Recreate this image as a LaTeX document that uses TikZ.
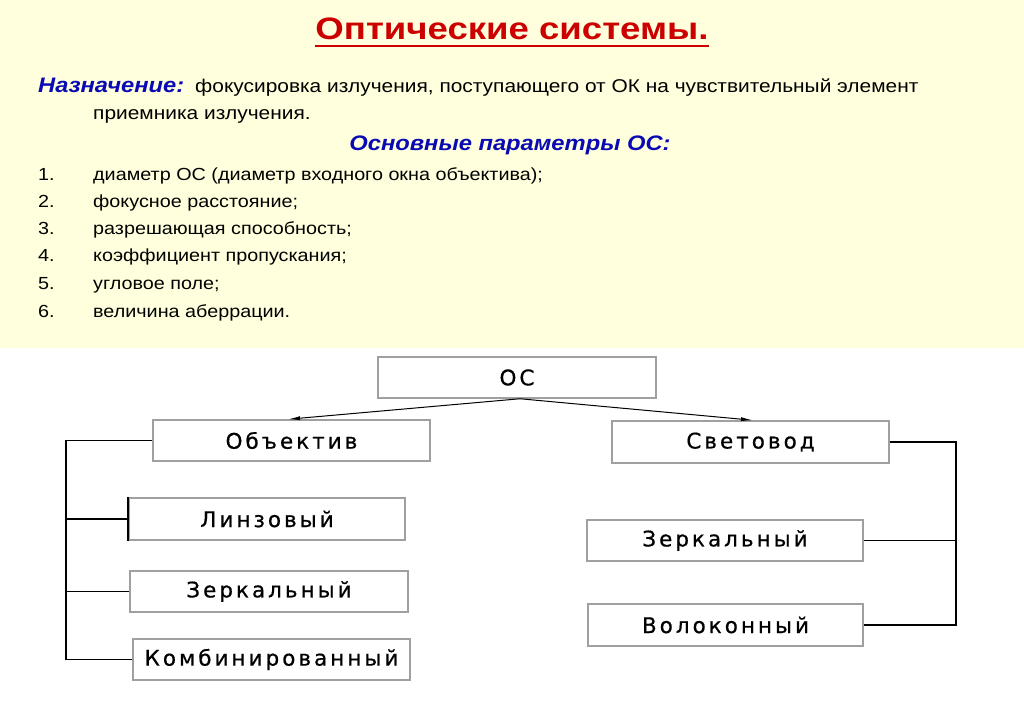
\documentclass[tikz,border=0pt]{standalone}
\usepackage{fontspec}
\setmainfont{Liberation Sans}
\newfontfamily\boxfont[LetterSpace=14,FakeBold=0.6]{DejaVu Sans}
\usetikzlibrary{arrows.meta}
\definecolor{bgyellow}{HTML}{FFFFDD}
\definecolor{titlered}{HTML}{CC0000}
\definecolor{headblue}{HTML}{0A0AB4}
\definecolor{boxgray}{HTML}{A0A0A0}
\newcommand{\sx}[2][1.13]{\scalebox{#1}[1]{#2}}
\begin{document}
\begin{tikzpicture}[x=1pt,y=-1pt,
  txt/.style={anchor=base west, inner sep=0, font=\fontsize{18.5}{20}\selectfont},
  ltxt/.style={anchor=base west, inner sep=0, font=\fontsize{17.5}{20}\selectfont},
  head/.style={inner sep=0, text=headblue, font=\bfseries\itshape\fontsize{21}{22}\selectfont},
  obox/.style={draw=boxgray, line width=1.5pt, fill=white, inner sep=0,
    minimum height=41pt, font=\boxfont\fontsize{21.5}{22}\selectfont},
  conn/.style={draw=black, line width=1.6pt},
  arr/.style={draw=black, line width=1pt, -{Latex[length=12pt,width=4pt]}}]
\useasboundingbox (0,0) rectangle (1024,709);
\fill[white] (0,0) rectangle (1024,709);
\fill[bgyellow] (0,0) rectangle (1024,348);
% title
\node[anchor=base, inner sep=0, text=titlered, font=\bfseries\fontsize{31}{31}\selectfont] (title) at (512,40) {\sx[1.18]{Оптические системы.}};
\draw[titlered, line width=2.5pt] ([yshift=-6pt]title.base west) -- ([yshift=-6pt]title.base east);
% purpose
\node[head, anchor=base west] (nazn) at (38,92) {\sx{Назначение:}};
\node[txt] (nazntext) at (195,92) {\sx{фокусировка излучения, поступающего от ОК на чувствительный элемент}};
\node[txt] (nazntext2) at (93,119) {\sx{приемника излучения.}};
\node[head, anchor=base] (param) at (510,150) {\sx{Основные параметры ОС:}};
% list
\node[ltxt] (n1) at (38,180) {\sx{1.}};
\node[ltxt] (t1) at (93,180) {\sx{диаметр ОС (диаметр входного окна объектива);}};
\node[ltxt] (n2) at (38,207) {\sx{2.}};
\node[ltxt] (t2) at (93,207) {\sx{фокусное расстояние;}};
\node[ltxt] (n3) at (38,234) {\sx{3.}};
\node[ltxt] (t3) at (93,234) {\sx{разрешающая способность;}};
\node[ltxt] (n4) at (38,261) {\sx{4.}};
\node[ltxt] (t4) at (93,261) {\sx{коэффициент пропускания;}};
\node[ltxt] (n5) at (38,289) {\sx{5.}};
\node[ltxt] (t5) at (93,289) {\sx{угловое поле;}};
\node[ltxt] (n6) at (38,317) {\sx{6.}};
\node[ltxt] (t6) at (93,317) {\sx{величина аберрации.}};
% boxes
\node[obox, minimum width=278pt] (os) at (517,377.5) {ОС};
\node[obox, minimum width=277pt] (obj) at (291.5,440.5) {Объектив};
\node[obox, minimum width=276pt, minimum height=42pt] (lin) at (267,519) {Линзовый};
\node[obox, minimum width=278pt] (zerL) at (269,591.5) {Зеркальный};
\node[obox, minimum width=277pt] (komb) at (271.5,659.5) {Комбинированный};
\node[obox, minimum width=277pt, minimum height=42pt] (svet) at (750.5,442) {Световод};
\node[obox, minimum width=276pt] (zerR) at (725,540.5) {Зеркальный};
\node[obox, minimum width=275pt, minimum height=42pt] (volo) at (725.5,625) {Волоконный};
% connectors
\coordinate (lx) at (66,0);
\coordinate (rx) at (956,0);
\draw[conn] (obj.west) -- (obj.west -| lx) |- (komb.west);
\draw[conn] (lin.west) -- (lin.west -| lx);
\draw[conn] (zerL.west) -- (zerL.west -| lx);
\draw[conn, line width=2pt] (lin.north west) -- (lin.south west);
\draw[conn] (svet.east) -- (svet.east -| rx) |- (volo.east);
\draw[conn] (zerR.east) -- (zerR.east -| rx);
\draw[arr] ([xshift=3pt]os.south) -- ([xshift=-3.5pt]obj.north);
\draw[arr] ([xshift=3pt]os.south) -- ([xshift=2.5pt]svet.north);
\end{tikzpicture}
\end{document}
